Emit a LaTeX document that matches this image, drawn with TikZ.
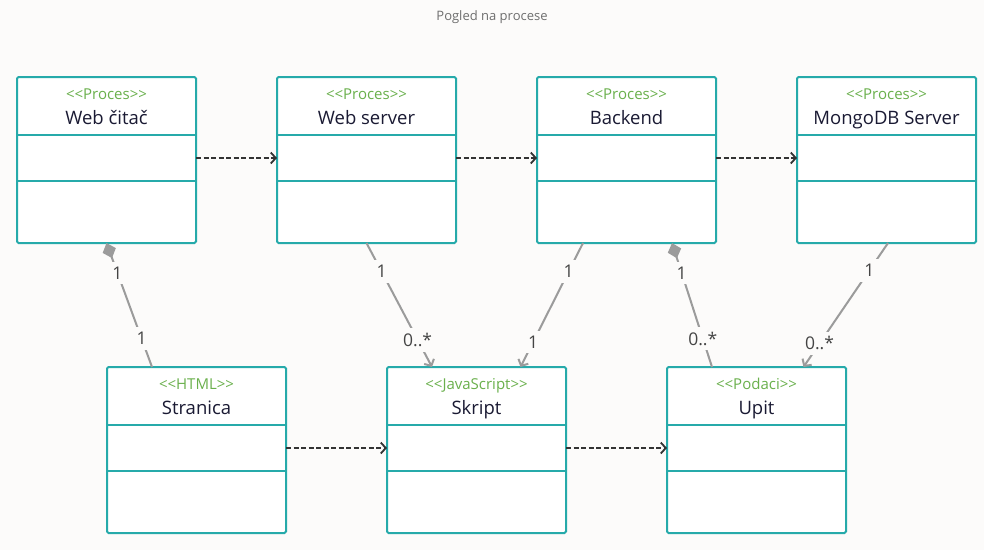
\documentclass[tikz,border=0pt]{standalone}
\usepackage{fontspec}
\setmainfont{Open Sans}
\usetikzlibrary{arrows.meta,positioning}

\definecolor{bgcol}{HTML}{FCFBFA}
\definecolor{boxcol}{HTML}{26AAAA}
\definecolor{stereocol}{HTML}{6AB04C}
\definecolor{namecol}{HTML}{1A1A33}
\definecolor{linkcol}{HTML}{9B9B9B}
\definecolor{labelcol}{HTML}{444444}
\definecolor{depcol}{HTML}{333333}
\definecolor{titlecol}{HTML}{6E6E6E}

\newcommand{\stereo}[1]{<\kern0pt<#1>\kern0pt>}

\begin{document}
\begin{tikzpicture}[
		x = 1pt, y = -1pt,
		umlbox/.style = {draw = boxcol, fill = white, line width = 2pt, rounded corners = 1.5pt,
			minimum width = 179pt, minimum height = 166pt, inner sep = 0pt, outer sep = 0pt},
		divider/.style = {boxcol, line width = 2pt},
		stereotext/.style = {anchor = base, text = stereocol, font = \fontsize{15}{17}\selectfont},
		nametext/.style = {anchor = base, text = namecol, font = \fontsize{18.5}{22}\selectfont},
		dep/.style = {depcol, line width = 1.8pt, dash pattern = on 5pt off 2.5pt,
			-{Straight Barb[length = 5pt, width = 11pt, line width = 1.8pt]}},
		link/.style = {linkcol, line width = 2pt},
		navlink/.style = {link, -{Straight Barb[length = 5pt, width = 11pt, line width = 2pt]}},
		complink/.style = {link, {Diamond[length = 16pt, width = 14pt]}-},
		mult/.style = {fill = bgcol, text = labelcol, inner sep = 5pt, font = \fontsize{17.5}{20}\selectfont}
	]

	\useasboundingbox (0,0) rectangle (984,550);
	\fill[bgcol] (0,0) rectangle (984,550);

	\node[anchor = base, text = titlecol, font = \fontsize{13}{15}\selectfont] (title) at (492,20.5) {Pogled na procese};

	% boxes
	\foreach \n/\x/\y/\s/\t in {webcitac/106.5/160/Proces/Web čitač, webserver/366.5/160/Proces/Web server,
		backend/626.5/160/Proces/Backend, mongodb/886.5/160/Proces/MongoDB Server,
		stranica/196.5/450/HTML/Stranica, skript/476.5/450/JavaScript/Skript, upit/756.5/450/Podaci/Upit} {
		\node[umlbox] (\n) at (\x,\y) {};
		\draw[divider] (\n.north west) ++(0,58) -- ++(179,0);
		\draw[divider] (\n.north west) ++(0,104) -- ++(179,0);
		\node[stereotext] (\n-s) at ([yshift=-22pt]\n.north) {\stereo{\s}};
		\node[nametext] (\n-t) at ([yshift=-47pt]\n.north) {\t};
	}

	% dependencies
	\draw[dep] ([yshift=2pt]webcitac.east) -- ([yshift=2pt]webserver.west);
	\draw[dep] ([yshift=2pt]webserver.east) -- ([yshift=2pt]backend.west);
	\draw[dep] ([yshift=2pt]backend.east) -- ([yshift=2pt]mongodb.west);
	\draw[dep] ([yshift=2pt]stranica.east) -- ([yshift=2pt]skript.west);
	\draw[dep] ([yshift=2pt]skript.east) -- ([yshift=2pt]upit.west);

	% associations
	\draw[complink] (webcitac.south) -- ([xshift=-44.5pt]stranica.north)
		node[mult, pos = .24] {1} node[mult, pos = .77] {1};
	\draw[navlink] (webserver.south) -- ([xshift=-44.5pt]skript.north)
		node[mult, pos = .23] {1} node[mult, pos = .78] {0..*};
	\draw[navlink] ([xshift=-43.5pt]backend.south) -- ([xshift=44pt]skript.north)
		node[mult, pos = .23] {1} node[mult, pos = .8] {1};
	\draw[complink] ([xshift=45.5pt]backend.south) -- ([xshift=-44.5pt]upit.north)
		node[mult, pos = .24] {1} node[mult, pos = .77] {0..*};
	\draw[navlink] ([xshift=1.5pt]mongodb.south) -- ([xshift=47pt]upit.north)
		node[mult, pos = .22] {1} node[mult, pos = .81] {0..*};

\end{tikzpicture}
\end{document}
